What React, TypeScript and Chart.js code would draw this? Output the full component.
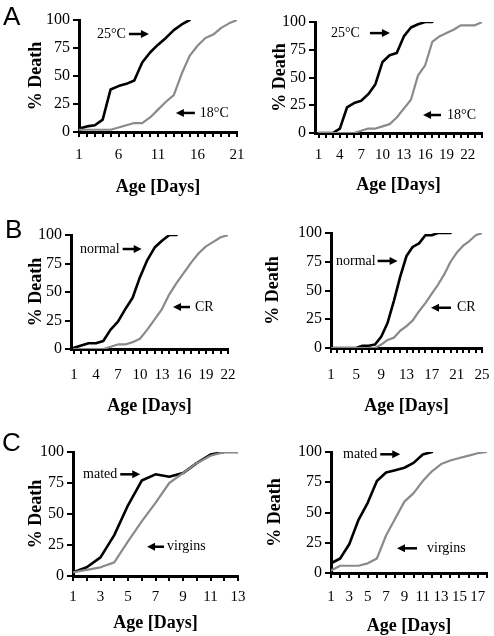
import React, { useEffect, useRef } from 'react';
import { Chart, registerables } from 'chart.js';

Chart.register(...registerables);

const SERIF = "'Liberation Serif', 'Times New Roman', Times, serif";
const SANS = "'Liberation Sans', Arial, Helvetica, sans-serif";

// ---------- Data ----------
const yTicks = [0, 25, 50, 75, 100];

// Panel A (temperature)
const A1_days = [1, 2, 3, 4, 5, 6, 7, 8, 9, 10, 11, 12, 13, 14, 15, 16, 17, 18, 19, 20, 21];
const A1_labels = [1, 6, 11, 16, 21];
const A1_25C = [3, 5, 6, 11, 38, 41, 43, 46, 62, 71, 78, 84, 91, 96, 100];
const A1_18C = [2, 2, 2, 2, 2, 4, 6, 8, 8, 13, 20, 27, 33, 52, 68, 77, 84, 87, 93, 97, 100];

const A2_days = [1, 2, 3, 4, 5, 6, 7, 8, 9, 10, 11, 12, 13, 14, 15, 16, 17, 18, 19, 20, 21, 22, 23, 24];
const A2_labels = [1, 4, 7, 10, 13, 16, 19, 22];
const A2_25C = [0, 0, 0, 4, 23, 27, 29, 35, 44, 64, 70, 72, 87, 95, 98, 100, 100];
const A2_18C = [0, 0, 0, 0, 0, 0, 2, 4, 4, 6, 8, 14, 22, 30, 52, 61, 82, 87, 90, 93, 97, 97, 97, 100];

// Panel B (diet)
const B1_days = [1, 2, 3, 4, 5, 6, 7, 8, 9, 10, 11, 12, 13, 14, 15, 16, 17, 18, 19, 20, 21, 22];
const B1_labels = [1, 4, 7, 10, 13, 16, 19, 22];
const B1_normal = [1, 3, 5, 5, 7, 17, 24, 35, 45, 63, 78, 89, 95, 100, 100];
const B1_CR = [0, 0, 0, 0, 0, 2, 4, 4, 6, 9, 17, 26, 35, 48, 58, 67, 76, 84, 90, 94, 98, 100];

const B2_days = [1, 2, 3, 4, 5, 6, 7, 8, 9, 10, 11, 12, 13, 14, 15, 16, 17, 18, 19, 20, 21, 22, 23, 24, 25];
const B2_labels = [1, 5, 9, 13, 17, 21, 25];
const B2_normal = [0, 0, 0, 0, 0, 2, 2, 3, 10, 22, 41, 62, 80, 88, 91, 98, 98, 100, 100, 100];
const B2_CR = [0, 0, 0, 0, 0, 0, 0, 0, 3, 7, 9, 15, 19, 24, 32, 39, 47, 55, 64, 75, 83, 89, 93, 98, 100];

// Panel C (mating)
const C1_days = [1, 2, 3, 4, 5, 6, 7, 8, 9, 10, 11, 12, 13];
const C1_labels = [1, 3, 5, 7, 9, 11, 13];
const C1_mated = [3, 7, 15, 33, 57, 77, 82, 80, 83, 91, 98, 100, 100];
const C1_virgins = [3, 5, 7, 11, 28, 44, 59, 75, 83, 91, 97, 100, 100];

const C2_days = [1, 2, 3, 4, 5, 6, 7, 8, 9, 10, 11, 12, 13, 14, 15, 16, 17, 18];
const C2_labels = [1, 3, 5, 7, 9, 11, 13, 15, 17];
const C2_mated = [8, 12, 24, 44, 58, 76, 83, 85, 87, 91, 98, 100];
const C2_virgins = [2, 6, 6, 6, 8, 12, 31, 45, 59, 66, 76, 84, 90, 93, 95, 97, 99, 100];

// ---------- Styles ----------
const BLACK = '#000000';
const GRAY = '#8a8a8a';

type Note = { text: string; x: number; y: number; dir: 'after' | 'before'; gap: number; len: number };
type Series = { values: number[]; color: string; width: number };
type PanelCfg = {
  left: number; top: number; width: number; height: number;
  area: { l: number; r: number; t: number; b: number };
  xMin: number; xMax: number;
  days: number[]; labelDays: number[];
  series: Series[];
  notes: Note[];
  yTitleCenter: number; // page x of y-title center
  xTitleCenter: number; // page y of x-title center
  xLabelCenter: number; // page y of x tick label center
};

const panels: PanelCfg[] = [
  {
    left: 0, top: 0, width: 247, height: 210,
    area: { l: 79, r: 237, t: 20, b: 132 },
    xMin: 1, xMax: 21, days: A1_days, labelDays: A1_labels,
    series: [
      { values: A1_18C, color: GRAY, width: 2.2 },
      { values: A1_25C, color: BLACK, width: 2.6 },
    ],
    notes: [
      { text: '25°C', x: 3.28, y: 87.5, dir: 'after', gap: 3, len: 20 },
      { text: '18°C', x: 16.3, y: 17, dir: 'before', gap: 5, len: 19 },
    ],
    yTitleCenter: 36.5, xTitleCenter: 187, xLabelCenter: 155,
  },
  {
    left: 247, top: 0, width: 247, height: 210,
    area: { l: 315, r: 482, t: 22, b: 133 },
    xMin: 0.5, xMax: 24, days: A2_days, labelDays: A2_labels,
    series: [
      { values: A2_18C, color: GRAY, width: 2.2 },
      { values: A2_25C, color: BLACK, width: 2.6 },
    ],
    notes: [
      { text: '25°C', x: 2.75, y: 90, dir: 'after', gap: 10, len: 20 },
      { text: '18°C', x: 19.08, y: 16.2, dir: 'before', gap: 6, len: 18 },
    ],
    yTitleCenter: 280.5, xTitleCenter: 185, xLabelCenter: 155,
  },
  {
    left: 0, top: 210, width: 247, height: 210,
    area: { l: 71, r: 228, t: 235, b: 349 },
    xMin: 0.6, xMax: 22, days: B1_days, labelDays: B1_labels,
    series: [
      { values: B1_CR, color: GRAY, width: 2.2 },
      { values: B1_normal, color: BLACK, width: 2.6 },
    ],
    notes: [
      { text: 'normal', x: 1.83, y: 87.7, dir: 'after', gap: 3, len: 19 },
      { text: 'CR', x: 17.5, y: 36.8, dir: 'before', gap: 5, len: 17 },
    ],
    yTitleCenter: 36.5, xTitleCenter: 406, xLabelCenter: 375,
  },
  {
    left: 247, top: 210, width: 247, height: 210,
    area: { l: 331, r: 482, t: 233, b: 348 },
    xMin: 1, xMax: 25, days: B2_days, labelDays: B2_labels,
    series: [
      { values: B2_CR, color: GRAY, width: 2.2 },
      { values: B2_normal, color: BLACK, width: 2.6 },
    ],
    notes: [
      { text: 'normal', x: 1.79, y: 75.7, dir: 'after', gap: 2, len: 20 },
      { text: 'CR', x: 21.03, y: 35, dir: 'before', gap: 6, len: 20 },
    ],
    yTitleCenter: 273.5, xTitleCenter: 406.7, xLabelCenter: 375,
  },
  {
    left: 0, top: 420, width: 247, height: 216,
    area: { l: 73, r: 238, t: 452, b: 576 },
    xMin: 1, xMax: 13, days: C1_days, labelDays: C1_labels,
    series: [
      { values: C1_virgins, color: GRAY, width: 2.2 },
      { values: C1_mated, color: BLACK, width: 2.6 },
    ],
    notes: [
      { text: 'mated', x: 1.73, y: 82, dir: 'after', gap: 3, len: 20 },
      { text: 'virgins', x: 7.84, y: 23.6, dir: 'before', gap: 3, len: 17 },
    ],
    yTitleCenter: 36.5, xTitleCenter: 623.3, xLabelCenter: 596.7,
  },
  {
    left: 247, top: 420, width: 247, height: 216,
    area: { l: 331, r: 487, t: 452, b: 573 },
    xMin: 1, xMax: 18, days: C2_days, labelDays: C2_labels,
    series: [
      { values: C2_virgins, color: GRAY, width: 2.2 },
      { values: C2_mated, color: BLACK, width: 2.6 },
    ],
    notes: [
      { text: 'mated', x: 2.31, y: 98.1, dir: 'after', gap: 3, len: 20 },
      { text: 'virgins', x: 11.46, y: 20.4, dir: 'before', gap: 10, len: 20 },
    ],
    yTitleCenter: 275, xTitleCenter: 626.7, xLabelCenter: 596.7,
  },
];

const letters = [
  { text: 'A', left: 3, top: 2.5 },
  { text: 'B', left: 5, top: 216 },
  { text: 'C', left: 2, top: 428.5 },
];

const Y_TICK_LEN = 6;
const X_TICK_LEN = 5;
const X_LABEL_SIZE = 15;
const Y_LABEL_SIZE = 16;
const TITLE_SIZE = 18;
const NOTE_SIZE = 14;

function drawArrow(ctx: CanvasRenderingContext2D, from: number, tip: number, y: number) {
  const dir = tip > from ? 1 : -1;
  const headLen = 8;
  const headW = 8;
  ctx.beginPath();
  ctx.lineWidth = 2.5;
  ctx.moveTo(from, y);
  ctx.lineTo(tip - dir * headLen + dir, y);
  ctx.stroke();
  ctx.beginPath();
  ctx.moveTo(tip, y);
  ctx.lineTo(tip - dir * headLen, y - headW / 2);
  ctx.lineTo(tip - dir * headLen, y + headW / 2);
  ctx.closePath();
  ctx.fill();
}

function Panel({ cfg }: { cfg: PanelCfg }) {
  const ref = useRef<HTMLCanvasElement>(null);
  useEffect(() => {
    const c = cfg;
    const l = c.area.l - c.left;
    const r = c.area.r - c.left;
    const t = c.area.t - c.top;
    const b = c.area.b - c.top;
    const titleLH = TITLE_SIZE * 1.2;
    const xLabelLH = X_LABEL_SIZE * 1.2;

    const datasets = c.series.map((s) => ({
      data: s.values.map((v, i) => ({ x: c.days[i], y: v })),
      borderColor: s.color,
      borderWidth: s.width,
      pointRadius: 0,
      fill: false,
      tension: 0,
      borderJoinStyle: 'round' as const,
      borderCapStyle: 'round' as const,
    }));

    const notesPlugin = {
      id: 'arrowNotes',
      afterDraw(chart: any) {
        const ctx: CanvasRenderingContext2D = chart.ctx;
        const xs = chart.scales.x;
        const ys = chart.scales.y;
        ctx.save();
        ctx.font = `${NOTE_SIZE}px ${SERIF}`;
        ctx.fillStyle = BLACK;
        ctx.strokeStyle = BLACK;
        ctx.textBaseline = 'middle';
        ctx.textAlign = 'left';
        for (const n of c.notes) {
          const px = xs.getPixelForValue(n.x);
          const py = ys.getPixelForValue(n.y);
          const w = ctx.measureText(n.text).width;
          ctx.fillText(n.text, px, py);
          if (n.dir === 'after') {
            const x1 = px + w + n.gap;
            drawArrow(ctx, x1, x1 + n.len, py);
          } else {
            const x2 = px - n.gap;
            drawArrow(ctx, x2, x2 - n.len, py);
          }
        }
        ctx.restore();
      },
    };

    const zeroPad = (s: any) => {
      s.paddingLeft = 0;
      s.paddingRight = 0;
      s.paddingTop = 0;
      s.paddingBottom = 0;
    };

    const chart = new Chart(ref.current as HTMLCanvasElement, {
      type: 'line',
      data: { datasets },
      options: {
        animation: false,
        responsive: false,
        maintainAspectRatio: false,
        layout: { padding: { left: 0, top: t, right: c.width - r, bottom: 0 } },
        plugins: { legend: { display: false }, tooltip: { enabled: false } },
        scales: {
          x: {
            type: 'linear',
            min: c.xMin,
            max: c.xMax,
            afterBuildTicks: (s: any) => {
              s.ticks = c.days.map((v) => ({ value: v }));
            },
            afterFit: (s: any) => {
              s.height = c.height - b;
              zeroPad(s);
            },
            ticks: {
              autoSkip: false,
              maxRotation: 0,
              minRotation: 0,
              padding: c.xLabelCenter - c.area.b - X_TICK_LEN - xLabelLH / 2,
              color: BLACK,
              font: { family: SERIF, size: X_LABEL_SIZE },
              callback: (v: any) => (c.labelDays.includes(Number(v)) ? String(v) : ''),
            },
            grid: {
              drawOnChartArea: false,
              drawTicks: true,
              tickLength: X_TICK_LEN,
              lineWidth: 2,
              tickWidth: 2,
              color: BLACK,
              tickColor: BLACK,
            },
            border: { display: true, color: BLACK, width: 3 },
            title: {
              display: true,
              text: 'Age [Days]',
              color: BLACK,
              font: { family: SERIF, size: TITLE_SIZE, weight: 'bold' },
              padding: { top: 0, bottom: c.height - (c.xTitleCenter - c.top) - titleLH / 2 },
            },
          },
          y: {
            type: 'linear',
            min: 0,
            max: 100,
            afterBuildTicks: (s: any) => {
              s.ticks = yTicks.map((v) => ({ value: v }));
            },
            afterFit: (s: any) => {
              s.width = l;
              zeroPad(s);
            },
            ticks: {
              padding: 3,
              color: BLACK,
              font: { family: SERIF, size: Y_LABEL_SIZE },
            },
            grid: {
              drawOnChartArea: false,
              drawTicks: true,
              tickLength: Y_TICK_LEN,
              lineWidth: 2,
              tickWidth: 2,
              color: BLACK,
              tickColor: BLACK,
            },
            border: { display: true, color: BLACK, width: 3 },
            title: {
              display: true,
              text: '% Death',
              color: BLACK,
              font: { family: SERIF, size: TITLE_SIZE, weight: 'bold' },
              padding: { top: c.yTitleCenter - c.left - titleLH / 2, bottom: 0 },
            },
          },
        },
      },
      plugins: [notesPlugin],
    } as any);
    return () => chart.destroy();
  }, [cfg]);
  return (
    <canvas
      ref={ref}
      width={cfg.width}
      height={cfg.height}
      style={{ position: 'absolute', left: cfg.left, top: cfg.top, width: cfg.width, height: cfg.height }}
    />
  );
}

export default function App() {
  return (
    <div style={{ position: 'absolute', left: 0, top: 0, width: 494, height: 636, background: '#fff', overflow: 'hidden' }}>
      {panels.map((p, i) => (
        <Panel key={i} cfg={p} />
      ))}
      {letters.map((L) => (
        <div
          key={L.text}
          style={{
            position: 'absolute',
            left: L.left,
            top: L.top,
            fontFamily: SANS,
            fontSize: 26,
            lineHeight: 1,
            color: '#000',
          }}
        >
          {L.text}
        </div>
      ))}
    </div>
  );
}
